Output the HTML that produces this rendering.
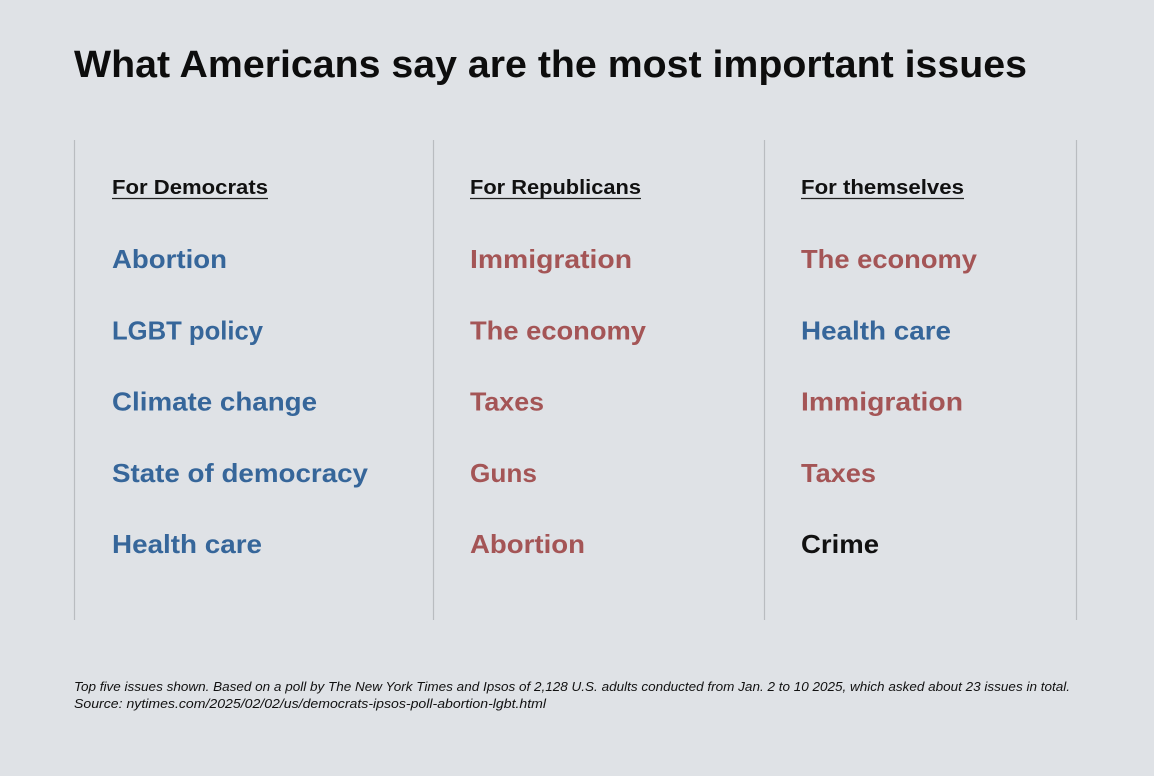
<!DOCTYPE html>
<html><head><meta charset="utf-8"><style>
html,body{margin:0;padding:0;background:#dfe2e6}
svg{display:block}
text{font-family:"Liberation Sans",sans-serif}
.h{font-size:20px;font-weight:bold;fill:#111}
.i{font-size:26px;font-weight:bold}
.b{fill:#36669a}.r{fill:#a45556}.k{fill:#111}
.f{font-size:13px;font-style:italic;fill:#111}
</style></head><body>
<svg width="1154" height="776" viewBox="0 0 1154 776">
<rect width="1154" height="776" fill="#dfe2e6"/>
<text x="74" y="77" font-size="38" font-weight="bold" fill="#0d0d0d" textLength="953" lengthAdjust="spacingAndGlyphs">What Americans say are the most important issues</text>
<g stroke="#b9bcc0" stroke-width="1.2">
<line x1="74.5" y1="140" x2="74.5" y2="620"/><line x1="433.5" y1="140" x2="433.5" y2="620"/>
<line x1="764.5" y1="140" x2="764.5" y2="620"/><line x1="1076.5" y1="140" x2="1076.5" y2="620"/>
</g>
<g id="cols"></g>
<text class="f" x="74" y="691" textLength="996" lengthAdjust="spacingAndGlyphs">Top five issues shown. Based on a poll by The New York Times and Ipsos of 2,128 U.S. adults conducted from Jan. 2 to 10 2025, which asked about 23 issues in total.</text>
<text class="f" x="74" y="708" textLength="472" lengthAdjust="spacingAndGlyphs">Source: nytimes.com/2025/02/02/us/democrats-ipsos-poll-abortion-lgbt.html</text>
</svg>
<script>
const headers=["For Democrats","For Republicans","For themselves"];
const headerWidths=[156,171,163];
const colX=[112,470,801];
const items=[["Abortion","LGBT policy","Climate change","State of democracy","Health care"],
["Immigration","The economy","Taxes","Guns","Abortion"],
["The economy","Health care","Immigration","Taxes","Crime"]];
const itemColors=[["b","b","b","b","b"],["r","r","r","r","r"],["r","b","r","r","k"]];
const itemWidths=[[115,151,205,256,150],[162,176,74,67,115],[176,150,162,75,78]];
const NS="http://www.w3.org/2000/svg";
const g=document.getElementById('cols');
headers.forEach((h,c)=>{
  const t=document.createElementNS(NS,'text');
  t.setAttribute('class','h');t.setAttribute('x',colX[c]);t.setAttribute('y',194);
  t.setAttribute('textLength',headerWidths[c]);t.setAttribute('lengthAdjust','spacingAndGlyphs');
  t.textContent=h;
  
  
  g.appendChild(t);
  const u=document.createElementNS(NS,'line');
  u.setAttribute('x1',colX[c]);u.setAttribute('x2',colX[c]+headerWidths[c]);
  u.setAttribute('y1',198.5);u.setAttribute('y2',198.5);u.setAttribute('stroke','#222');u.setAttribute('stroke-width','1.3');
  
  
  g.appendChild(u);
  items[c].forEach((s,r)=>{
    const e=document.createElementNS(NS,'text');
    e.setAttribute('class','i '+itemColors[c][r]);
    e.setAttribute('x',colX[c]);e.setAttribute('y',268+r*71.3);
    e.setAttribute('textLength',itemWidths[c][r]);e.setAttribute('lengthAdjust','spacingAndGlyphs');
    e.textContent=s;
    
    
    g.appendChild(e);
  });
});
</script>
</body></html>
